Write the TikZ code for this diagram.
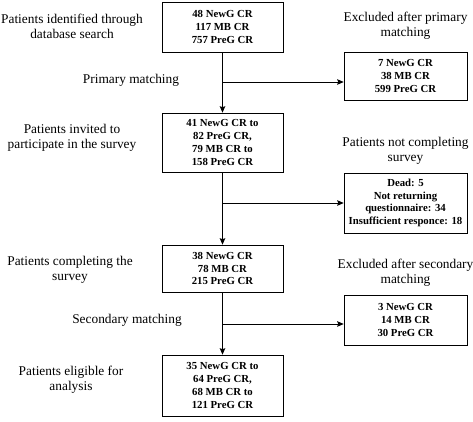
\documentclass[tikz,border=0pt]{standalone}
\usepackage{fontspec}
\setmainfont{Liberation Serif}
\usetikzlibrary{positioning, arrows.meta, shadows}

\begin{document}
\begin{tikzpicture}[
    x=1bp, y=-1bp,
    >={Stealth[length=6.5bp, width=5.5bp, inset=1bp]},
    countbox/.style={
        rectangle,
        draw=black,
        line width=0.6pt,
        fill=white,
        align=center,
        inner sep=0pt,
        minimum width=121bp,
        font=\bfseries\fontsize{10.8}{12.8}\selectfont,
        % thick lower and right edge
        drop shadow={shadow xshift=0.8pt, shadow yshift=-0.8pt, fill=black!80, opacity=1}
    },
    sidebox/.style={
        countbox,
        minimum width=123bp
    },
    note/.style={
        align=center,
        inner sep=0pt,
        font=\fontsize{13.4}{15.2}\selectfont
    },
    flow/.style={line width=0.8pt}
]
    \useasboundingbox (0,0) rectangle (473,421);

    % =======================================================
    % MAIN COLUMN
    % =======================================================
    \node[countbox, minimum height=50bp] (found) at (222.5, 27) {48 NewG CR\\117 MB CR\\757 PreG CR};
    \node[countbox, minimum height=59bp] (invited) at (222.5, 142.5) {41 NewG CR to\\82 PreG CR,\\79 MB CR to\\158 PreG CR};
    \node[countbox, minimum height=47bp] (completed) at (222.5, 268.5) {38 NewG CR\\78 MB CR\\215 PreG CR};
    \node[countbox, minimum height=61bp] (eligible) at (222.5, 385.5) {35 NewG CR to\\64 PreG CR,\\68 MB CR to\\121 PreG CR};

    % Left captions
    \node[note] (foundTxt) at (72, 26) {Patients identified through\\database search};
    \node[note] (primTxt) at (131, 80) {Primary matching};
    \node[note] (invitedTxt) at (72, 138) {Patients invited to\\participate in the survey};
    \node[note] (completedTxt) at (70, 270) {Patients completing the\\survey};
    \node[note] (secTxt) at (127, 320) {Secondary matching};
    \node[note] (eligibleTxt) at (71, 380) {Patients eligible for\\analysis};

    % =======================================================
    % EXCLUSIONS
    % =======================================================
    \node[sidebox, minimum height=48bp] (exPrim) at (405.5, 76) {7 NewG CR\\38 MB CR\\599 PreG CR};
    \node[sidebox, minimum height=60bp] (exSurvey) at (405.5, 203) {Dead: 5\\Not returning\\questionnaire: 34\\Insufficient responce: 18};
    \node[sidebox, minimum height=50bp] (exSec) at (405.5, 320) {3 NewG CR\\14 MB CR\\30 PreG CR};

    \node[note] (exPrimTxt) at (405.5, 26) {Excluded after primary\\matching};
    \node[note] (exSurveyTxt) at (405.5, 151) {Patients not completing\\survey};
    \node[note] (exSecTxt) at (405.5, 273) {Excluded after secondary\\matching};

    % Branch points
    \coordinate (splitA) at (222.5, 82);
    \coordinate (splitB) at (222.5, 203);
    \coordinate (splitC) at (222.5, 324);

    % Main flow
    \draw[flow, ->] (found) -- (invited);
    \draw[flow, ->] (invited) -- (completed);
    \draw[flow, ->] (completed) -- (eligible);

    % Side flow
    \draw[flow, ->] (splitA) -- (splitA -| exPrim.west);
    \draw[flow, ->] (splitB) -- (splitB -| exSurvey.west);
    \draw[flow, ->] (splitC) -- (splitC -| exSec.west);

\end{tikzpicture}
\end{document}
